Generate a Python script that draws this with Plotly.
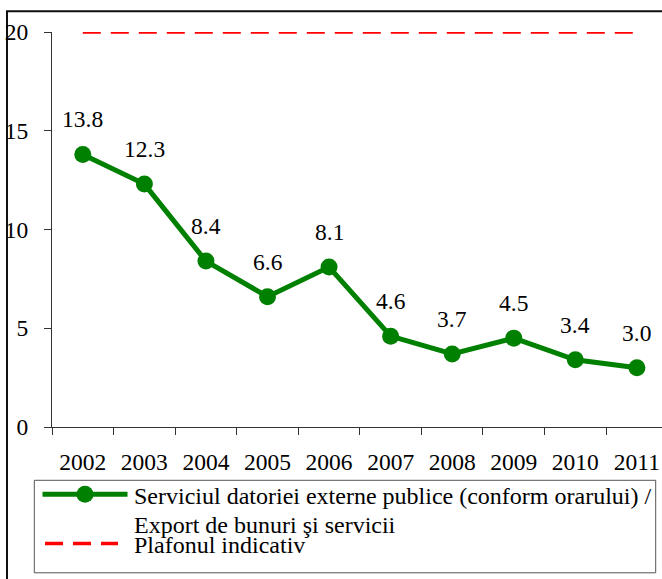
import plotly.graph_objects as go

# Data
years = ["2002", "2003", "2004", "2005", "2006", "2007", "2008", "2009", "2010", "2011"]
debt_service = [13.8, 12.3, 8.4, 6.6, 8.1, 4.6, 3.7, 4.5, 3.4, 3.0]
ceiling = 20
y_ticks = [0, 5, 10, 15, 20]

series_name = "Serviciul datoriei externe publice (conform orarului) /"
series_name2 = "Export de bunuri şi servicii"
ceiling_name = "Plafonul indicativ"

W, H = 662, 579
L, R, T, B = 52, 0, 31.7, 152.3
plot_w = W - L - R
plot_h = H - T - B
cat_w = 61.57

FONT = "Liberation Serif"
FS = 23.5
FS_LEG = 24
GREEN = "#008000"
RED = "#FF0000"


def px(x):
    return (x - L) / plot_w


def py(y):
    return (H - B - y) / plot_h


fig = go.Figure()

fig.add_trace(go.Scatter(
    x=years, y=[ceiling] * len(years), mode="lines",
    line=dict(color=RED, width=3.5, dash="18px,10px"),
    showlegend=False, hoverinfo="skip",
))

fig.add_trace(go.Scatter(
    x=years, y=debt_service, mode="lines+markers",
    line=dict(color=GREEN, width=5),
    marker=dict(color=GREEN, size=17),
    showlegend=False,
))

annotations = []
# value labels above each point (category index used as x position)
for i, v in enumerate(debt_service):
    annotations.append(dict(
        x=i, y=v, xref="x", yref="y", text=f"{v:.1f}", showarrow=False,
        yshift=35, font=dict(family=FONT, size=FS, color="black"),
    ))

# Legend box contents
for label, yc in ((series_name, 496), (series_name2, 524.5), (ceiling_name, 544.2)):
    annotations.append(dict(
        x=px(132), y=py(yc), xref="paper", yref="paper", text=label,
        showarrow=False, xanchor="left", yanchor="middle",
        font=dict(family=FONT, size=FS_LEG, color="black"),
    ))

shapes = [
    # outer frame
    dict(type="rect", xref="paper", yref="paper",
         x0=px(7), x1=px(720), y0=py(11), y1=py(640),
         line=dict(color="#111111", width=2), layer="below"),
    # legend frame
    dict(type="rect", xref="paper", yref="paper",
         x0=px(34.3), x1=px(655.7), y0=py(480), y1=py(572.5),
         line=dict(color="#555555", width=1)),
    # legend samples
    dict(type="line", xref="paper", yref="paper",
         x0=px(42.5), x1=px(127.5), y0=py(494), y1=py(494),
         line=dict(color=GREEN, width=5)),
    dict(type="circle", xref="paper", yref="paper",
         x0=px(76.5), x1=px(93.5), y0=py(485.5), y1=py(502.5),
         fillcolor=GREEN, line=dict(color=GREEN, width=0)),
    dict(type="line", xref="paper", yref="paper",
         x0=px(45), x1=px(118), y0=py(543.3), y1=py(543.3),
         line=dict(color=RED, width=3.5, dash="18px,10px")),
]

fig.update_layout(
    width=W, height=H,
    margin=dict(l=L, r=R, t=T, b=B, pad=0),
    paper_bgcolor="white", plot_bgcolor="white",
    font=dict(family=FONT, size=FS, color="black"),
    annotations=annotations, shapes=shapes,
    showlegend=False,
)

fig.update_xaxes(
    type="category", range=[-0.5, -0.5 + plot_w / cat_w],
    tickson="boundaries", ticks="outside", ticklen=7, tickcolor="#333333",
    showline=True, linecolor="#333333", linewidth=1,
    showgrid=False, zeroline=False,
    tickfont=dict(family=FONT, size=FS, color="black"),
    ticklabelstandoff=14,
)

fig.update_yaxes(
    range=[0, 20], tickvals=y_ticks,
    ticks="outside", ticklen=7, tickcolor="#333333",
    showline=True, linecolor="#333333", linewidth=1,
    showgrid=False, zeroline=False,
    tickfont=dict(family=FONT, size=FS, color="black"),
    ticklabelstandoff=11,
)

fig.write_html("out.html")
